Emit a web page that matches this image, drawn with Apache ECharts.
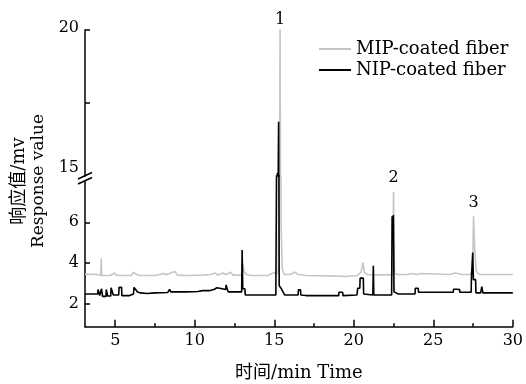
<!DOCTYPE html>
<html><head><meta charset="utf-8">
<script src="https://cdn.jsdelivr.net/npm/echarts@6/dist/echarts.min.js"></script>
<style>html,body{margin:0;padding:0;background:#fff}#c{width:526px;height:384px}</style>
</head><body><div id="c"></div>
<script>
// ---- data (time in min, response in mV) ----
const mipPoints = [
  [3.1,3.47],[3.9,3.45],[4.0,3.40],[4.09,3.40],[4.12,4.22],[4.15,3.40],[4.5,3.40],[4.6,3.47],[4.7,3.40],
  [4.95,3.52],[5.05,3.42],[5.25,3.40],[6.0,3.40],[6.15,3.56],[6.3,3.47],[6.5,3.40],[7.5,3.40],[8.05,3.50],
  [8.2,3.44],[8.55,3.55],[8.75,3.60],[8.9,3.42],[9.6,3.40],[10.5,3.42],[11.0,3.45],[11.3,3.52],[11.45,3.42],
  [11.8,3.52],[11.95,3.45],[12.25,3.56],[12.4,3.42],[12.95,3.42],[13.02,3.98],[13.1,3.60],[13.25,3.45],
  [13.5,3.40],[14.6,3.40],[14.85,3.50],[15.0,3.55],[15.12,3.45],[15.25,3.62],[15.36,20.1],[15.43,5.9],
  [15.5,3.72],[15.62,3.45],[16.0,3.45],[16.3,3.56],[16.5,3.45],[17.0,3.40],[18.5,3.38],[19.5,3.35],
  [20.2,3.40],[20.45,3.55],[20.58,4.03],[20.66,3.55],[20.85,3.45],[21.5,3.43],[22.44,3.43],[22.5,7.49],
  [22.56,3.50],[22.75,3.45],[23.4,3.45],[23.6,3.50],[24.0,3.45],[24.2,3.50],[26.0,3.45],[26.4,3.52],
  [26.8,3.45],[27.3,3.45],[27.47,3.60],[27.53,6.32],[27.6,4.75],[27.7,3.60],[27.9,3.45],[30,3.45]
];
const nipPoints = [
  [3.1,2.5],[3.9,2.5],[3.92,2.72],[4.0,2.72],[4.02,2.42],[4.12,2.42],[4.14,2.75],[4.18,2.75],[4.2,2.38],
  [4.42,2.38],[4.44,2.72],[4.5,2.72],[4.52,2.4],[4.72,2.4],[4.74,2.8],[4.86,2.8],[4.88,2.45],[5.22,2.45],
  [5.24,2.82],[5.4,2.82],[5.42,2.42],[5.9,2.42],[5.95,2.5],[6.15,2.5],[6.18,2.82],[6.3,2.7],[6.4,2.6],
  [6.6,2.55],[7.0,2.52],[7.5,2.55],[8.3,2.57],[8.4,2.57],[8.42,2.72],[8.5,2.6],[9.5,2.6],[10.2,2.62],
  [10.5,2.66],[10.9,2.66],[11.0,2.72],[11.2,2.72],[11.22,2.8],[11.4,2.8],[11.42,2.72],[11.95,2.72],
  [11.97,2.94],[12.08,2.94],[12.1,2.6],[12.95,2.6],[12.98,4.65],[13.02,2.75],[13.15,2.75],[13.18,2.45],
  [15.1,2.45],[15.15,2.36],[15.19,15.1],[15.23,14.2],[15.27,16.86],[15.31,2.9],[15.45,2.75],[15.55,2.68],
  [15.65,2.45],[16.5,2.45],[16.52,2.7],[16.65,2.7],[16.67,2.45],[17.0,2.42],[19.05,2.42],[19.07,2.58],
  [19.3,2.58],[19.32,2.42],[20.2,2.45],[20.25,2.78],[20.38,2.78],[20.4,3.27],[20.6,3.27],[20.62,2.5],
  [21.2,2.45],[21.23,3.87],[21.26,2.45],[22.38,2.45],[22.41,6.3],[22.45,5.2],[22.49,6.36],[22.53,2.6],
  [22.8,2.5],[23.85,2.5],[23.87,2.78],[24.05,2.78],[24.07,2.58],[26.25,2.58],[26.27,2.73],[26.45,2.73],
  [26.47,2.65],[26.55,2.72],[26.65,2.72],[26.67,2.58],[27.38,2.58],[27.4,3.35],[27.45,3.35],[27.48,4.52],
  [27.52,3.2],[27.66,3.2],[27.68,2.55],[27.98,2.55],[28.05,2.86],[28.12,2.55],[30,2.55]
];
const seriesNames = ['MIP-coated fiber', 'NIP-coated fiber'];
const xTickValues = [5, 10, 15, 20, 25, 30];
const xMinorTickValues = [7.5, 12.5, 17.5, 22.5, 27.5];
const yLowLabels = [2, 4, 6];
const yHighLabels = [15, 20];
const yHighTicks = [17.5, 20];
const peakLabels = ['1', '2', '3'];
const peakTime = [15.36, 22.5, 27.53];
const peakResp = [20, 7.49, 6.32];

const FONT = "'DejaVu Serif', 'Noto Sans CJK SC', serif";
const GRAY = '#c6c6c6';
const X_MIN = 3.1, X_MAX = 30;

const chart = echarts.init(document.getElementById('c'), null, {renderer: 'canvas'});

function peakMark(i, dy) {
  return {coord: [peakTime[i], peakResp[i]], value: peakLabels[i], label: {offset: [0, dy]}};
}
const axisLineStyle = {color: '#000', width: 1.5};
const markLabel = {show: true, position: 'inside', formatter: '{c}', fontFamily: FONT, fontSize: 16, color: '#000'};

const option = {
  animation: false,
  backgroundColor: '#fff',
  grid: [
    {left: 85, right: 13, top: 30, height: 146},
    {left: 85, right: 13, top: 176, bottom: 57.3}
  ],
  legend: {
    data: seriesNames,
    orient: 'vertical',
    left: 314, top: 35,
    icon: 'rect',
    itemWidth: 32, itemHeight: 2, itemGap: 3,
    textStyle: {fontFamily: FONT, fontSize: 18, color: '#000'}
  },
  xAxis: [
    {gridIndex: 0, type: 'value', min: X_MIN, max: X_MAX, show: false},
    {gridIndex: 1, type: 'value', min: X_MIN, max: X_MAX, position: 'bottom',
     axisLine: {lineStyle: axisLineStyle},
     axisTick: {inside: true, length: 7, customValues: xTickValues, lineStyle: {width: 1.5, color: '#000'}},
     axisLabel: {customValues: xTickValues, fontFamily: FONT, fontSize: 16, color: '#000', margin: 6},
     splitLine: {show: false},
     name: '时间/min Time', nameLocation: 'middle', nameGap: 38,
     nameTextStyle: {fontFamily: FONT, fontSize: 18, color: '#000'}},
    {gridIndex: 1, type: 'value', min: X_MIN, max: X_MAX, position: 'bottom',
     axisLine: {show: false},
     axisTick: {inside: true, length: 3.5, customValues: xMinorTickValues, lineStyle: {width: 1.5, color: '#000'}},
     axisLabel: {show: false}, splitLine: {show: false}}
  ],
  yAxis: [
    {gridIndex: 0, type: 'value', min: 15, max: 20,
     axisLine: {show: true, lineStyle: axisLineStyle},
     axisTick: {show: true, inside: true, length: 5, customValues: yHighTicks, lineStyle: {width: 1.5, color: '#000'}},
     axisLabel: {customValues: yHighLabels, fontFamily: FONT, fontSize: 16, color: '#000', margin: 6,
       formatter: v => v === 15 ? '{lo|15}' : '{n|' + v + '}',
       rich: {lo: {fontFamily: FONT, fontSize: 16, padding: [0, 0, 16, 0]},
              n: {fontFamily: FONT, fontSize: 16, padding: [0, 0, 5, 0]}}},
     splitLine: {show: false}},
    {gridIndex: 1, type: 'value', min: 0.9, max: 8.26,
     axisLine: {show: true, lineStyle: axisLineStyle},
     axisTick: {show: true, inside: true, length: 5, customValues: yLowLabels, lineStyle: {width: 1.5, color: '#000'}},
     axisLabel: {customValues: yLowLabels, fontFamily: FONT, fontSize: 16, color: '#000', margin: 6},
     splitLine: {show: false}}
  ],
  series: [
    {name: seriesNames[0], type: 'line', xAxisIndex: 0, yAxisIndex: 0, data: mipPoints, smooth: false,
     symbol: 'none', clip: true, lineStyle: {color: GRAY, width: 1.6}, itemStyle: {color: GRAY},
     markPoint: {symbol: 'circle', symbolSize: 0, silent: true, label: markLabel,
       data: [peakMark(0, -10)]}},
    {name: seriesNames[0], type: 'line', xAxisIndex: 1, yAxisIndex: 1, data: mipPoints, smooth: false,
     symbol: 'none', clip: true, lineStyle: {color: GRAY, width: 1.6}, itemStyle: {color: GRAY},
     markPoint: {symbol: 'circle', symbolSize: 0, silent: true, label: markLabel,
       data: [peakMark(1, -14), peakMark(2, -13)]}},
    {name: seriesNames[1], type: 'line', xAxisIndex: 0, yAxisIndex: 0, data: nipPoints, smooth: false,
     symbol: 'none', clip: true, lineStyle: {color: '#000', width: 1.6}, itemStyle: {color: '#000'}},
    {name: seriesNames[1], type: 'line', xAxisIndex: 1, yAxisIndex: 1, data: nipPoints, smooth: false,
     symbol: 'none', clip: true, lineStyle: {color: '#000', width: 1.6}, itemStyle: {color: '#000'}}
  ],
  graphic: [
    {type: 'text', x: 19, y: 181, rotation: Math.PI / 2,
     style: {text: '响应值/mv', font: "18px 'DejaVu Serif', 'Noto Sans CJK SC', serif",
             fill: '#000', align: 'center', verticalAlign: 'middle'}},
    {type: 'text', x: 39, y: 181, rotation: Math.PI / 2,
     style: {text: 'Response value', font: "17px 'DejaVu Serif', serif",
             fill: '#000', align: 'center', verticalAlign: 'middle'}},
    {type: 'line', shape: {x1: 81, y1: 181, x2: 90, y2: 176.5}, style: {stroke: '#fff', lineWidth: 4}, z: 100},
    {type: 'line', shape: {x1: 78, y1: 179, x2: 92, y2: 172.5}, style: {stroke: '#000', lineWidth: 1.5}, z: 101},
    {type: 'line', shape: {x1: 78, y1: 184, x2: 92, y2: 177.5}, style: {stroke: '#000', lineWidth: 1.5}, z: 101}
  ]
};
chart.setOption(option);
</script>
</body></html>
